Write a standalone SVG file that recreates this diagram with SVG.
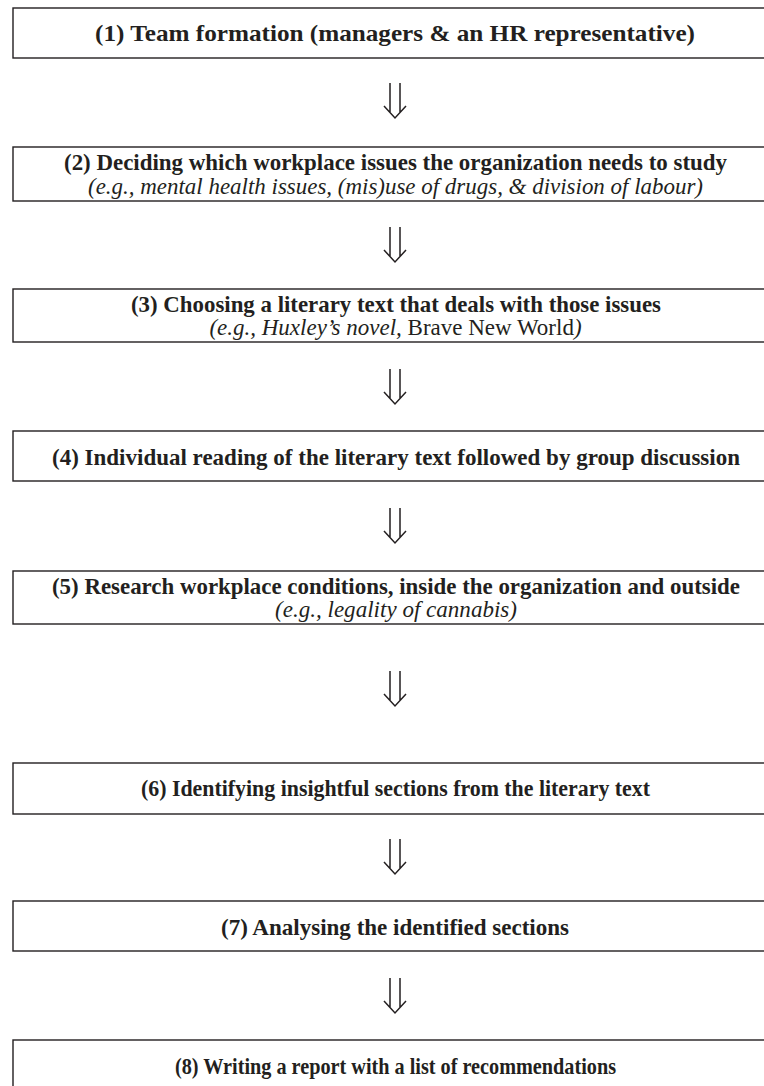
<svg xmlns="http://www.w3.org/2000/svg" width="764" height="1086" viewBox="0 0 764 1086">
<style>
.box{fill:#fff;stroke:#231f20;stroke-width:1.4}
.b{font-family:"Liberation Serif","Times New Roman",serif;font-weight:bold;font-size:24px;fill:#231f20;text-anchor:middle}
.i{font-family:"Liberation Serif","Times New Roman",serif;font-style:italic;font-size:23px;fill:#231f20;text-anchor:middle}
.r{font-style:normal}
.arr{fill:none;stroke:#231f20;stroke-width:1.5}
</style>
<defs>
<path id="dar" d="M390,0 V30 M400,0 V30 M384,23 L395,35 L406,23"/>
</defs>
<rect width="764" height="1086" fill="#fff"/>
<g id="node1"><rect class="box" x="13" y="8" width="800" height="50"/><text class="b" x="395" y="41" textLength="600" lengthAdjust="spacingAndGlyphs">(1) Team formation (managers &amp; an HR representative)</text></g>
<g id="node2"><rect class="box" x="13" y="147" width="800" height="54"/><text class="b" x="395.5" y="170" textLength="663" lengthAdjust="spacingAndGlyphs">(2) Deciding which workplace issues the organization needs to study</text><text class="i" x="395.5" y="194" textLength="615" lengthAdjust="spacingAndGlyphs">(e.g., mental health issues, (mis)use of drugs, &amp; division of labour)</text></g>
<g id="node3"><rect class="box" x="13" y="289" width="800" height="53"/><text class="b" x="396" y="312" textLength="530" lengthAdjust="spacingAndGlyphs">(3) Choosing a literary text that deals with those issues</text><text class="i" x="395.5" y="335">(e.g., Huxley’s novel, <tspan class="r">Brave New World</tspan>)</text></g>
<g id="node4"><rect class="box" x="13" y="431" width="800" height="50"/><text class="b" x="396" y="465" textLength="688" lengthAdjust="spacingAndGlyphs">(4) Individual reading of the literary text followed by group discussion</text></g>
<g id="node5"><rect class="box" x="13" y="571" width="800" height="53"/><text class="b" x="396" y="594" textLength="688" lengthAdjust="spacingAndGlyphs">(5) Research workplace conditions, inside the organization and outside</text><text class="i" x="396" y="617" textLength="242" lengthAdjust="spacingAndGlyphs">(e.g., legality of cannabis)</text></g>
<g id="node6"><rect class="box" x="13" y="763" width="800" height="51"/><text class="b" x="395.5" y="796" textLength="509" lengthAdjust="spacingAndGlyphs">(6) Identifying insightful sections from the literary text</text></g>
<g id="node7"><rect class="box" x="13" y="901" width="800" height="50"/><text class="b" x="395" y="935" textLength="348" lengthAdjust="spacingAndGlyphs">(7) Analysing the identified sections</text></g>
<g id="node8"><rect class="box" x="13" y="1040" width="800" height="100"/><text class="b" x="395.5" y="1074" textLength="441" lengthAdjust="spacingAndGlyphs">(8) Writing a report with a list of recommendations</text></g>
<g id="connectors" class="arr">
<use href="#dar" y="83"/>
<use href="#dar" y="227"/>
<use href="#dar" y="369"/>
<use href="#dar" y="508"/>
<use href="#dar" y="671"/>
<use href="#dar" y="839"/>
<use href="#dar" y="978"/>
</g>
</svg>
